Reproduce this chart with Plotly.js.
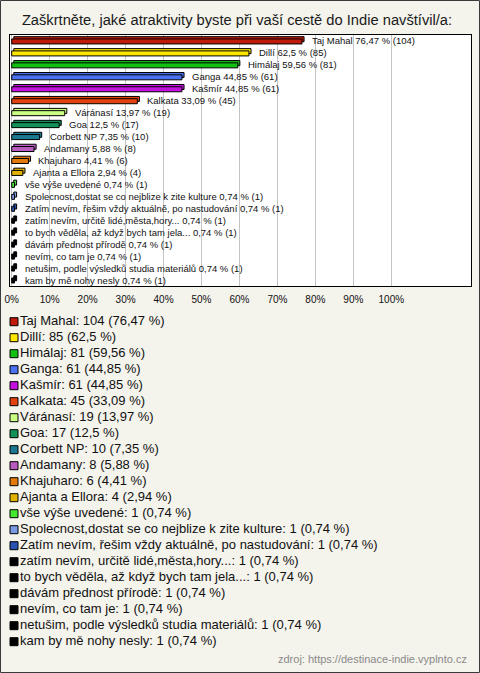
<!DOCTYPE html>
<html>
<head>
<meta charset="utf-8">
<script src="https://cdn.plot.ly/plotly-3.0.1.min.js"></script>
<style>html,body{margin:0;padding:0;background:#f4f3ec;}#chart{width:480px;height:673px;}</style>
</head>
<body>
<div id="chart"></div>
<script>
const titleText = "Zaškrtněte, jaké atraktivity byste při vaší cestě do Indie navštívil/a:";
const categories = ["Taj Mahal","Dillí","Himálaj","Ganga","Kašmír","Kalkata","Váránasí","Goa","Corbett NP","Andamany","Khajuharo","Ajanta a Ellora","vše výše uvedené","Spolecnost,dostat se co nejblize k zite kulture","Zatím nevím, řešim vždy aktuálně, po nastudování","zatím nevím, určitě lidé,města,hory...","to bych věděla, až když bych tam jela...","dávám přednost přírodě","nevím, co tam je","netušim, podle výsledků studia materiálů","kam by mě nohy nesly"];
const counts = [104,85,81,61,61,45,19,17,10,8,6,4,1,1,1,1,1,1,1,1,1];
const percents = [76.47,62.5,59.56,44.85,44.85,33.09,13.97,12.5,7.35,5.88,4.41,2.94,0.74,0.74,0.74,0.74,0.74,0.74,0.74,0.74,0.74];
const colors = ["#c01a0a","#ffe600","#12c012","#4a72f0","#c412de","#e2420e","#caff84","#129258","#1a7890","#b85cc0","#e27a0a","#e2b200","#44e632","#7a9ae2","#2a52b2","#000000","#000000","#000000","#000000","#000000","#000000"];
const xTicks = [0,10,20,30,40,50,60,70,80,90,100];
const sourceText = "zdroj: https://destinace-indie.vyplnto.cz";

const fmt = v => String(v).replace('.', ',');
const idx = categories.map((_, i) => i);
const FONT = "Liberation Sans, Arial, sans-serif";

const W = 480, H = 673, mL = 10, mR = 9, mT = 35, mB = 20;
const pw = W - mL - mR, ph = H - mT - mB, bottomPx = H - mB;
const py = p => (bottomPx - p) / ph;
const px = p => (p - mL) / pw;

const backBar = {
  type: 'bar', orientation: 'h', x: percents, y: idx, base: 0.55,
  width: 0.42, offset: -0.36,
  marker: {color: colors, line: {color: '#000', width: 1}},
  hoverinfo: 'skip', showlegend: false, xaxis: 'x', yaxis: 'y'
};
const frontBar = {
  type: 'bar', orientation: 'h', x: percents, y: idx,
  width: 0.42, offset: -0.17,
  marker: {color: colors, line: {color: '#000', width: 1}},
  hoverinfo: 'skip', showlegend: false, xaxis: 'x', yaxis: 'y'
};
const legendTrace = {
  type: 'scatter', mode: 'markers+text',
  x: idx.map(() => 4), y: idx,
  marker: {symbol: 'square', size: 8, color: colors, line: {color: '#000', width: 1}},
  text: categories.map((c, i) => c + ": " + counts[i] + " (" + fmt(percents[i]) + " %)"),
  textposition: 'middle right',
  textfont: {family: FONT, size: 13, color: '#111'},
  hoverinfo: 'skip', showlegend: false, xaxis: 'x2', yaxis: 'y2', cliponaxis: false
};

const annotations = categories.map((c, i) => ({
  x: percents[i], y: i, xref: 'x', yref: 'y',
  text: c + " " + fmt(percents[i]) + " % (" + counts[i] + ")",
  showarrow: false, xanchor: 'left', yanchor: 'middle', xshift: 8, yshift: 0,
  font: {family: FONT, size: 9.5, color: '#111'}
}));
annotations.push({
  x: px(469), y: py(659), xref: 'paper', yref: 'paper',
  text: sourceText, showarrow: false, xanchor: 'right', yanchor: 'middle',
  font: {family: FONT, size: 11, color: '#8a8a8a'}
});

const layout = {
  width: W, height: H,
  margin: {l: mL, r: mR, t: mT, b: mB, pad: 0},
  paper_bgcolor: '#f4f3ec', plot_bgcolor: 'rgba(0,0,0,0)',
  barmode: 'overlay',
  showlegend: false,
  title: {text: titleText, x: 237 / W, xref: 'container', xanchor: 'center',
          y: 1 - 20 / H, yref: 'container', yanchor: 'middle',
          font: {family: FONT, size: 14.7, color: '#1a1a1a'}},
  xaxis: {domain: [0, 1], anchor: 'y', range: [-0.45, 121.0],
          tickvals: xTicks, ticktext: xTicks.map(v => v + '%'),
          showgrid: true, gridcolor: '#c4c4c4', gridwidth: 1, zeroline: false,
          showline: true, mirror: true, linecolor: '#000', linewidth: 1,
          ticks: '', ticklabelstandoff: 4,
          tickfont: {family: FONT, size: 10, color: '#111'}, fixedrange: true},
  yaxis: {domain: [py(286), 1], anchor: 'x', range: [20.5, -0.5],
          showticklabels: false, showgrid: false, zeroline: false,
          showline: true, mirror: true, linecolor: '#000', linewidth: 1, ticks: '', fixedrange: true},
  xaxis2: {domain: [0, 1], anchor: 'y2', range: [0, pw], visible: false, fixedrange: true},
  yaxis2: {domain: [py(649.7), py(313.7)], anchor: 'x2', range: [20.5, -0.5], visible: false, fixedrange: true},
  shapes: [
    {type: 'rect', xref: 'x domain', yref: 'y domain', x0: 0, x1: 1, y0: 0, y1: 1,
     fillcolor: '#ffffff', line: {width: 0}, layer: 'below'},
    {type: 'rect', xref: 'paper', yref: 'paper', x0: px(0.5), x1: px(479.5), y0: py(672.5), y1: py(0.5),
     fillcolor: 'rgba(0,0,0,0)', line: {color: '#3a3a3a', width: 1}, layer: 'above'}
  ],
  annotations: annotations
};

Plotly.newPlot('chart', [backBar, frontBar, legendTrace], layout, {displayModeBar: false, staticPlot: true});
</script>
</body>
</html>
